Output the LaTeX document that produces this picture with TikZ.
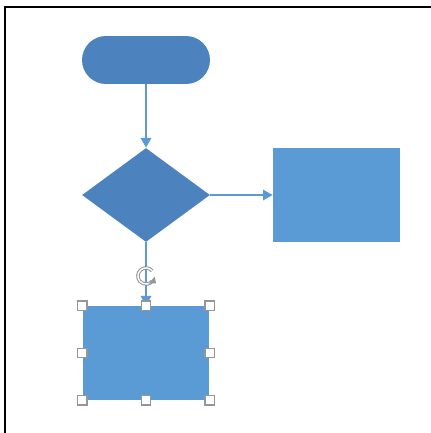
\documentclass[tikz,border=0pt]{standalone}
\usepackage{tikz}
\usepackage{xcolor}
\usetikzlibrary{shapes.geometric,shapes.misc,arrows.meta}

\definecolor{boxblue}{RGB}{91,155,213}
\definecolor{darkblue}{RGB}{76,130,190}
\definecolor{handlegray}{RGB}{150,150,150}

\tikzset{
  term/.style={rounded rectangle, fill=darkblue, minimum width=2.56cm, minimum height=0.96cm, inner sep=0pt},
  decision/.style={diamond, fill=darkblue, minimum width=2.56cm, minimum height=1.88cm, inner sep=0pt},
  process/.style={rectangle, fill=boxblue, minimum width=2.54cm, minimum height=1.88cm, inner sep=0pt},
  flow/.style={boxblue, line width=0.8pt, -{Triangle[length=5.5pt,width=6pt]}},
  handle/.style={rectangle, draw=handlegray, fill=white, line width=0.7pt, minimum size=0.19cm, inner sep=0pt}
}

\begin{document}
\begin{tikzpicture}[x=0.02cm, y=-0.02cm]
                \useasboundingbox (0,0) rectangle (431,433);

                % Frame of the cropped window
                \draw[line width=1.1pt] (5,433) -- (5,7) -- (431,7);

                % Shapes of the flowchart
                \node[term] (start) at (146,60) {};
                \node[decision] (decide) at (146,195) {};
                \node[process] (side) at (336.5,195) {};
                \node[process] (pick) at (146,353) {};

                % Connectors
                \draw[flow] (start) -- (decide);
                \draw[flow] (decide) -- (side);
                \draw[flow] (decide) -- (pick);

                % Rotation handle above the selected box
                \coordinate (rot) at (146,276);
                \draw[handlegray, line width=2pt] ([shift={(40:4.6pt)}]rot) arc[start angle=40, end angle=320, radius=4.6pt];
                \draw[white, line width=0.8pt] ([shift={(40:4.6pt)}]rot) arc[start angle=40, end angle=320, radius=4.6pt];
                \fill[handlegray] ([shift={(320:4.6pt)}]rot) ++(-2pt,-1.4pt) -- ++(4.2pt,0.2pt) -- ++(-0.8pt,3.8pt) -- cycle;

                % Sizing handles of the selected box
                \foreach \a/\i in {north west/1, north/2, north east/3, east/4, south east/5, south/6, south west/7, west/8}
                    \node[handle] (h\i) at (pick.\a) {};
\end{tikzpicture}
\end{document}
